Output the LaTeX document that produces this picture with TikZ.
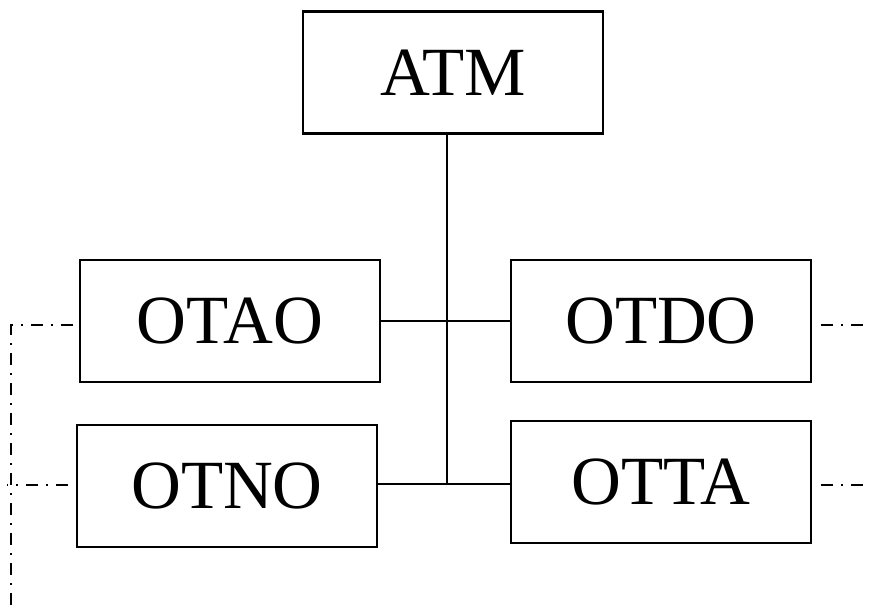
\documentclass[tikz,border=0pt]{standalone}
\usepackage{fontspec}
\setmainfont{Liberation Serif}
\begin{document}
\begin{tikzpicture}[x=1pt,y=-1pt,
  unit/.style={draw,line width=2.5pt,minimum width=300pt,minimum height=122pt,inner sep=0pt,font=\fontsize{69}{80}\selectfont},
  link/.style={line width=2.5pt},
  ext/.style={line width=2.5pt,dash pattern=on 12pt off 8pt on 2pt off 8pt}]
\useasboundingbox (0,0) rectangle (869,612);
\node[unit] (atm)  at (453,72.5) {ATM};
\node[unit] (otao) at (230,321) {OTAO};
\node[unit] (otdo) at (661,321) {OTDO};
\node[unit] (otno) at (227,486) {OTNO};
\node[unit] (otta) at (661,482) {OTTA};
\coordinate (jb) at (447,484);
\draw[link] (atm.south -| jb) -- (jb);
\draw[link] (otao.east) -- (otdo.west);
\draw[link] (otno.east |- jb) -- (otta.west |- jb);
\coordinate (lt) at (11,325);
\coordinate (lb) at (11,612);
\coordinate (ln) at (7,485);
\coordinate (r1) at (869,325);
\coordinate (r2) at (869,485);
\draw[ext] (73,325) -- (lt) -- (lb);
\draw[ext] (68,485) -- (ln);
\draw[ext] (821,325) -- (r1);
\draw[ext] (821,485) -- (r2);
\end{tikzpicture}
\end{document}
